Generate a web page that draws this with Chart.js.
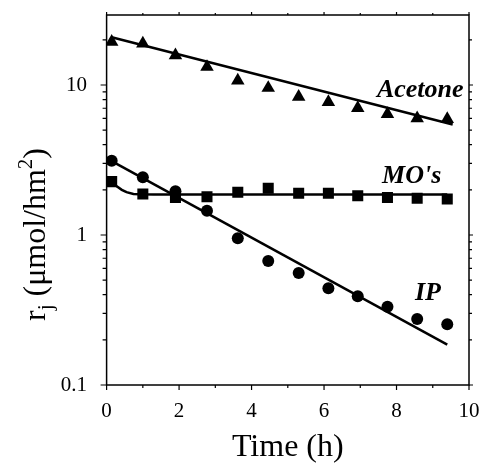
<!DOCTYPE html>
<html><head><meta charset="utf-8">
<script src="https://cdn.jsdelivr.net/npm/chart.js@4/dist/chart.umd.min.js"></script>
<style>html,body{margin:0;padding:0;background:#fff}#wrap{width:481px;height:465px}</style>
</head><body><div id="wrap"><canvas id="c" width="481" height="465"></canvas></div>
<script>
// ---- data ----
const timeH      = [0.14, 1.0, 1.9, 2.77, 3.62, 4.46, 5.3, 6.12, 6.93, 7.75, 8.57, 9.4];
const acetone    = [19.4, 18.9, 15.8, 13.2, 10.7, 9.56, 8.35, 7.7, 7.03, 6.4, 6.0, 5.92];
const mos        = [2.27, 1.88, 1.78, 1.80, 1.93, 2.05, 1.90, 1.90, 1.83, 1.78, 1.76, 1.74];
const ip         = [3.13, 2.43, 1.96, 1.45, 0.95, 0.67, 0.558, 0.441, 0.39, 0.333, 0.275, 0.254];
// model (fit) curves
const acetoneFitT = [0.14, 9.55];
const acetoneFit  = [20.8, 5.45];
const ipFitT      = [0.14, 9.4];
const ipFit       = [3.11, 0.186];
const mosFitT     = [0.14, 0.28, 0.42, 0.55, 0.74, 0.92, 1.3, 9.4];
const mosFit      = [2.27, 2.11, 2.00, 1.93, 1.88, 1.87, 1.86, 1.86];
// axes
const xMajorTicks = [0, 2, 4, 6, 8, 10];
const xMinorTicks = [1, 3, 5, 7, 9];
const yMajorTicks = [0.1, 1, 10];
const yMinorTicks = [0.2,0.3,0.4,0.5,0.6,0.7,0.8,0.9,2,3,4,5,6,7,8,9,20];
const seriesLabels = ['Acetone', "MO's", 'IP'];

const pts = (xs, ys) => xs.map((v, i) => ({x: v, y: ys[i]}));

const serif = '"Liberation Serif", "Times New Roman", serif';

const framePlugin = {
  id: 'frame',
  afterDraw(chart) {
    const {ctx, chartArea: a, scales: {x, y}} = chart;
    ctx.save();
    ctx.strokeStyle = '#000';
    ctx.lineWidth = 1.5;
    ctx.strokeRect(a.left, a.top, a.right - a.left, a.bottom - a.top);
    ctx.lineWidth = 1.2;
    ctx.beginPath();
    yMajorTicks.forEach(v => { const p = y.getPixelForValue(v);
      ctx.moveTo(a.left - 6, p); ctx.lineTo(a.left, p);
      ctx.moveTo(a.right, p); ctx.lineTo(a.right + 4, p); });
    yMinorTicks.forEach(v => { const p = y.getPixelForValue(v);
      ctx.moveTo(a.left - 4, p); ctx.lineTo(a.left, p);
      ctx.moveTo(a.right, p); ctx.lineTo(a.right + 3, p); });
    xMajorTicks.forEach(v => { const p = x.getPixelForValue(v);
      ctx.moveTo(p, a.bottom); ctx.lineTo(p, a.bottom + 5);
      ctx.moveTo(p, a.top); ctx.lineTo(p, a.top - 3); });
    xMinorTicks.forEach(v => { const p = x.getPixelForValue(v);
      ctx.moveTo(p, a.bottom); ctx.lineTo(p, a.bottom + 3);
      ctx.moveTo(p, a.top); ctx.lineTo(p, a.top - 2); });
    ctx.stroke();

    // series labels
    ctx.fillStyle = '#000';
    ctx.font = 'bold italic 26px ' + serif;
    ctx.textBaseline = 'alphabetic';
    ctx.textAlign = 'left';
    const lab = [[7.46, 8.32], [7.6, 2.22], [8.51, 0.369]];
    seriesLabels.forEach((t, i) => ctx.fillText(t, x.getPixelForValue(lab[i][0]), y.getPixelForValue(lab[i][1])));

    // x title
    ctx.font = '32px ' + serif;
    ctx.textAlign = 'center';
    ctx.fillText('Time (h)', (a.left + a.right) / 2, 456);

    // y title (rotated) r_j (μmol/hm^2)
    ctx.translate(45, 321);
    ctx.rotate(-Math.PI / 2);
    ctx.textAlign = 'left';
    let cx = 0;
    const big = '32px ' + serif, small = '21px ' + serif;
    ctx.font = big; ctx.fillText('r', cx, 0); cx += ctx.measureText('r').width;
    ctx.font = small; ctx.fillText('j', cx, 7); cx += ctx.measureText('j').width;
    ctx.font = big; const mid = ' (\u03bcmol/hm'; ctx.fillText(mid, cx, 0); cx += ctx.measureText(mid).width;
    ctx.font = small; ctx.fillText('2', cx, -13); cx += ctx.measureText('2').width;
    ctx.font = big; ctx.fillText(')', cx, 0);
    ctx.restore();
  }
};

const noPad = s => { s.paddingTop = 0; s.paddingBottom = 0; s.paddingLeft = 0; s.paddingRight = 0; };

const lineDs = (xs, ys) => ({data: pts(xs, ys), showLine: true, borderColor: '#000', borderWidth: 2.5,
  pointRadius: 0, fill: false, tension: 0});
const markDs = (ys, style, r) => ({data: pts(timeH, ys), showLine: false, pointStyle: style, pointRadius: r,
  backgroundColor: '#000', borderColor: '#000', borderWidth: 0});

new Chart(document.getElementById('c'), {
  type: 'scatter',
  data: { datasets: [
    lineDs(acetoneFitT, acetoneFit),
    lineDs(mosFitT, mosFit),
    lineDs(ipFitT, ipFit),
    markDs(acetone, 'triangle', 7.8),
    markDs(mos, 'rect', 7.8),
    markDs(ip, 'circle', 6)
  ]},
  options: {
    responsive: false, animation: false, devicePixelRatio: 1,
    layout: { padding: { left: 0, right: 12, top: 15, bottom: 0 } },
    plugins: { legend: { display: false }, tooltip: { enabled: false } },
    scales: {
      x: { type: 'linear', min: 0, max: 10,
        grid: { display: false }, border: { display: false },
        ticks: { stepSize: 2, padding: 6, color: '#000', font: { family: serif, size: 21 }, maxRotation: 0 },
        afterFit: s => { s.height = 80; noPad(s); } },
      y: { type: 'logarithmic', min: 0.1, max: 29.3,
        grid: { display: false }, border: { display: false },
        afterBuildTicks: s => { s.ticks = yMajorTicks.map(v => ({value: v})); },
        ticks: { padding: 11.6, color: '#000', font: { family: serif, size: 21 },
          callback: v => String(v) },
        afterFit: s => { s.width = 106.6; noPad(s); } }
    }
  },
  plugins: [framePlugin]
});
</script></body></html>
